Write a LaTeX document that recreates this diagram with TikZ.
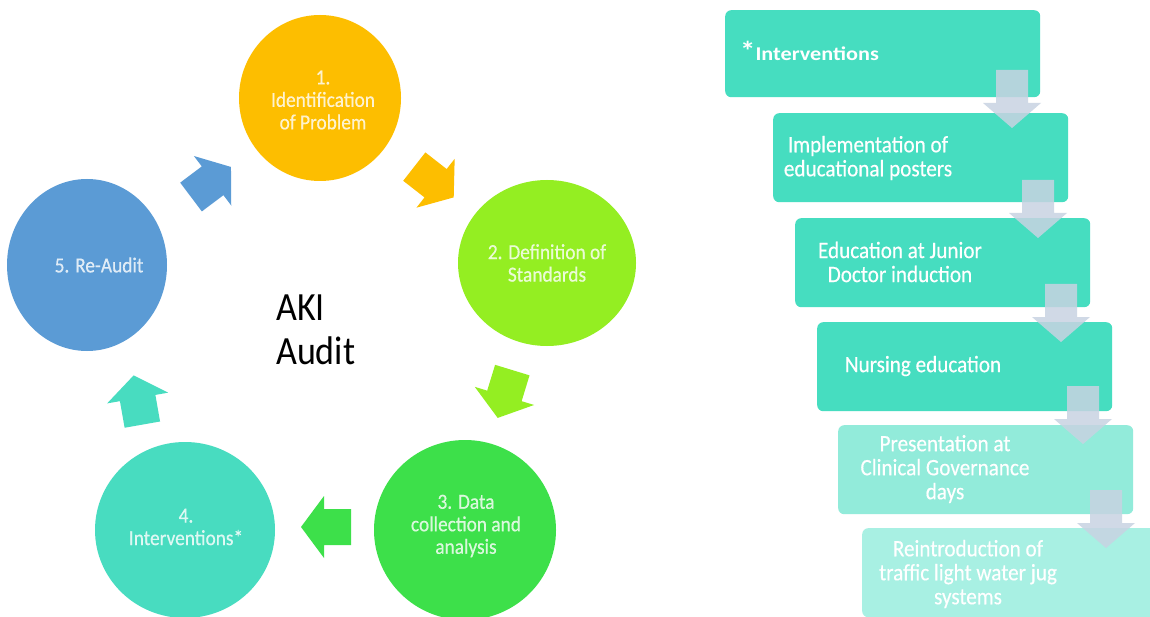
\documentclass[tikz,border=0pt]{standalone}
\usepackage{fontspec}
\setmainfont{Carlito}[FakeStretch=0.9,FakeBold=0.4]
\newfontfamily\plainfont{Carlito}[FakeStretch=0.9]
\newfontfamily\wideb{Carlito}[FakeStretch=1.14]
\usetikzlibrary{shapes.geometric}
\definecolor{cyellow}{HTML}{FDBE00}
\definecolor{clime}{HTML}{94EE22}
\definecolor{cgreen}{HTML}{3DE04A}
\definecolor{cteal}{HTML}{48DCC0}
\definecolor{cblue}{HTML}{5B9BD5}
\definecolor{cbox}{HTML}{46DDC0}
\definecolor{cboxl}{HTML}{92EBDA}
\definecolor{cboxll}{HTML}{A8F0E3}
\definecolor{carr}{HTML}{C8D3E2}
\newcommand\cyclearrow[4]{\fill[#4,shift={(#1,#2)},rotate=#3] (-25,-18) -- (2,-18) -- (2,-31) -- (25,0) -- (2,31) -- (2,18) -- (-25,18) -- cycle;}
\newcommand\dnarrow[2]{\fill[carr,opacity=0.85,shift={(#1,#2)}] (-16,0) -- (16,0) -- (16,33) -- (29,33) -- (0,58) -- (-29,33) -- (-16,33) -- cycle;}
\begin{document}
\begin{tikzpicture}[x=1pt,y=-1pt,
  circ/.style={ellipse, inner sep=0pt, draw=none},
  ctext/.style={text=white, text opacity=0.8, align=center, font=\fontsize{21.5}{22.5}\selectfont, inner sep=0pt},
  box/.style={rectangle, rounded corners=6pt, anchor=north west, minimum width=295pt, minimum height=89pt, inner sep=0pt},
  btext/.style={text=white, align=center, font=\fontsize{23.5}{24}\selectfont, inner sep=0pt},
  ]
\useasboundingbox (0,0) rectangle (1150,617);
\clip (0,0) rectangle (1150,617);
\fill[white] (0,0) rectangle (1150,617);
% cycle circles
\node[circ, fill=cyellow, minimum width=162pt, minimum height=166pt] (c1) at (320,98) {};
\node[circ, fill=clime, minimum width=178pt, minimum height=166pt] (c2) at (547,263) {};
\node[circ, fill=cgreen, minimum width=182pt, minimum height=180pt] (c3) at (465,530) {};
\node[circ, fill=cteal, minimum width=180pt, minimum height=176pt] (c4) at (185,530) {};
\node[circ, fill=cblue, minimum width=160pt, minimum height=172pt] (c5) at (87,265) {};
\node[ctext] (t1) at (323,100) {1.\\Identification\\of Problem};
\node[ctext] (t2) at (547,263) {2. Definition of\\Standards};
\node[ctext] (t3) at (466,526) {3. Data\\collection and\\analysis};
\node[ctext] (t4) at (186,527) {4.\\Interventions*};
\node[ctext] (t5) at (99,265) {5. Re-Audit};
% cycle arrows
\cyclearrow{211}{182}{37}{cblue}
\cyclearrow{434}{182}{-38}{cyellow}
\cyclearrow{505}{394}{-107}{clime}
\cyclearrow{326}{527}{180}{cgreen}
\cyclearrow{138}{400}{100}{cteal}
% centre title
\node[align=left, anchor=west, inner sep=0pt, font=\plainfont\fontsize{40}{44}\selectfont] (aki) at (276,330) {AKI\\Audit};
% interventions flow
\node[box, fill=cbox, minimum width=315pt, minimum height=87pt] (b1) at (725,10) {};
\node[box, fill=cbox] (b2) at (773,113) {};
\node[box, fill=cbox] (b3) at (795,218) {};
\node[box, fill=cbox] (b4) at (817,322) {};
\node[box, fill=cboxl] (b5) at (838,425) {};
\node[box, fill=cboxll] (b6) at (862,528) {};
\node[anchor=base west, inner sep=0pt, text=white, font=\wideb\bfseries\fontsize{19.5}{20}\selectfont] (bt1) at (740,61) {{\fontsize{27}{27}\selectfont\bfseries*}Interventions};
\node[btext] (bt2) at (868,158) {Implementation of\\educational posters};
\node[btext] (bt3) at (900,262) {Education at Junior\\Doctor induction};
\node[btext] (bt4) at (923,366) {Nursing education};
\node[btext] (bt5) at (945,469) {Presentation at\\Clinical Governance\\days};
\node[btext] (bt6) at (968,574) {Reintroduction of\\traffic light water jug\\systems};
\dnarrow{1012}{70}
\dnarrow{1038}{180}
\dnarrow{1061}{284}
\dnarrow{1083}{386}
\dnarrow{1106}{490}
\end{tikzpicture}
\end{document}
